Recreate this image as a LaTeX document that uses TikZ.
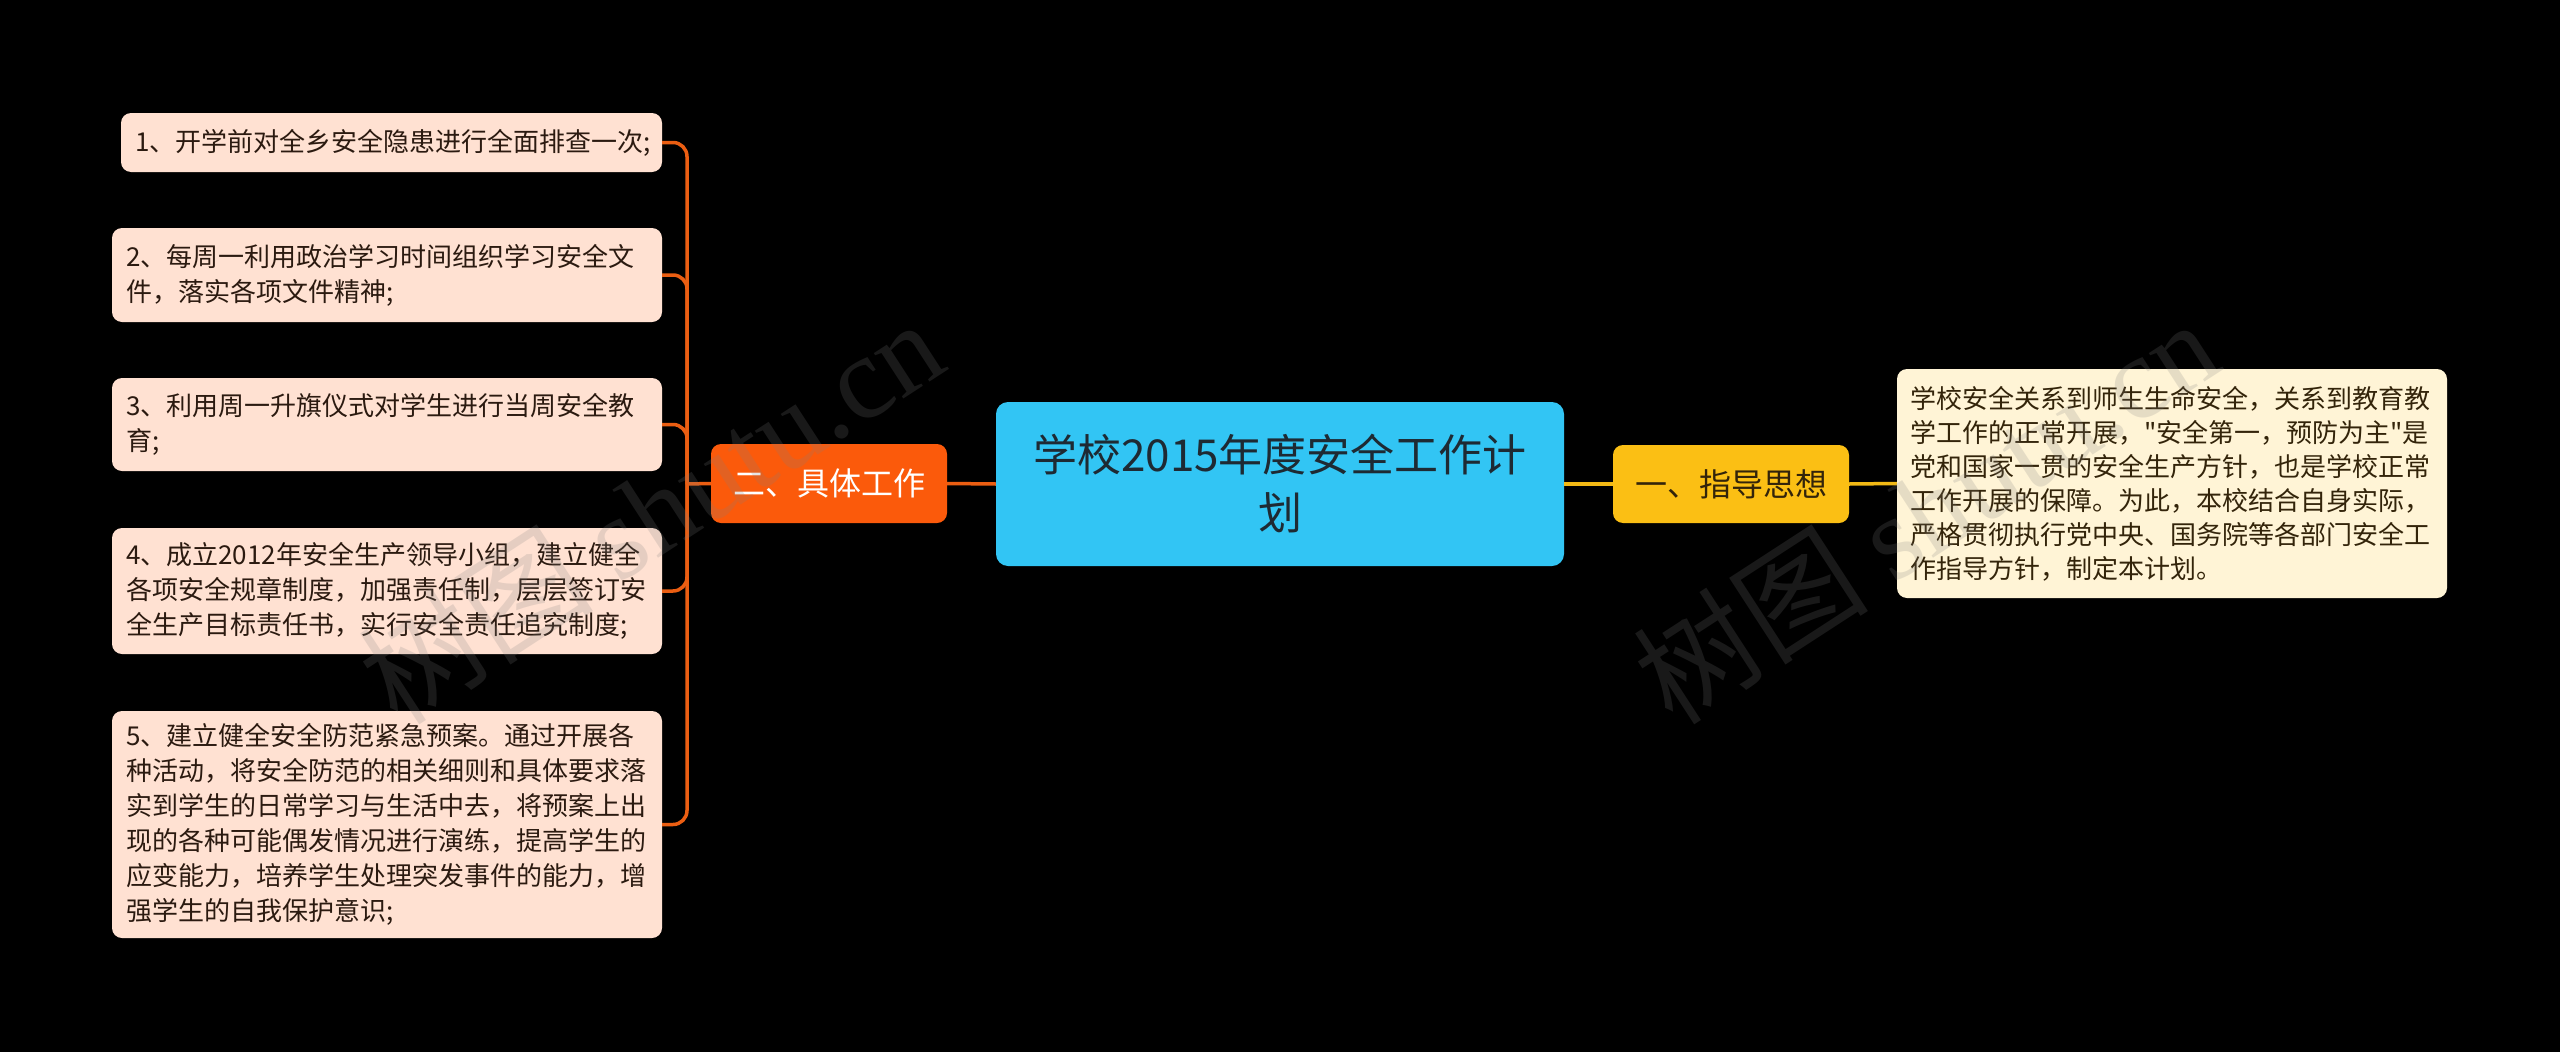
\documentclass[tikz,border=0pt]{standalone}
\usepackage{fontspec}
\setmainfont{Noto Sans CJK SC}
\newfontfamily\plainfont{Noto Sans CJK SC}
\newfontfamily\wmfont{Liberation Serif}
\definecolor{leafc}{HTML}{FFE1D2}
\definecolor{notec}{HTML}{FFF4D6}
\definecolor{bluec}{HTML}{32C5F4}
\definecolor{orangec}{HTML}{FB5A0B}
\definecolor{yellowc}{HTML}{FBBF14}
\definecolor{oline}{HTML}{EB5E12}
\definecolor{yline}{HTML}{F2B915}
\definecolor{leaftxt}{HTML}{2B1A10}
\definecolor{notetxt}{HTML}{33240A}
\definecolor{maintxt}{HTML}{1E2A33}
\tikzset{
  leaf/.style={fill=leafc, rounded corners=10pt, text=leaftxt, align=left,
    inner xsep=14pt, inner ysep=0pt, text width=522pt,
    font=\fontsize{26pt}{35pt}\selectfont},
  note/.style={fill=notec, rounded corners=10pt, text=notetxt, align=left,
    inner xsep=13pt, inner ysep=0pt, text width=524pt, minimum height=229pt,
    font=\plainfont\fontsize{26pt}{34pt}\selectfont},
  mainbox/.style={fill=bluec, rounded corners=12pt, text=maintxt, align=center,
    inner sep=0pt, text width=568pt, minimum height=164pt,
    font=\fontsize{44pt}{58pt}\selectfont},
  branchbox/.style={rounded corners=10pt, align=center, inner sep=0pt,
    minimum width=236pt, minimum height=79pt,
    font=\fontsize{32pt}{38pt}\selectfont},
  oconn/.style={draw=oline, line width=3.5pt},
  yconn/.style={draw=yline, line width=3.5pt},
  wm/.style={text=gray, text opacity=0.2, font=\fontsize{118pt}{120pt}\selectfont}
}
\begin{document}
\begin{tikzpicture}[x=1pt,y=-1pt]
\fill[black] (0,0) rectangle (2560,1052);
\useasboundingbox (0,0) rectangle (2560,1052);

% central topic
\node[mainbox] (C) at (1280,484) {学校2015年度安全工作计\\划};

% branches
\node[branchbox, fill=orangec, text=white] (L) at (829,483.5) {二、具体工作};
\node[branchbox, fill=yellowc, text=notetxt, minimum height=78pt] (R) at (1731,484) {一、指导思想};

% right note
\node[note] (T) at (2172,483.5) {学校安全关系到师生生命安全，关系到教育教\\学工作的正常开展，"安全第一，预防为主"是\\党和国家一贯的安全生产方针，也是学校正常\\工作开展的保障。为此，本校结合自身实际，\\严格贯彻执行党中央、国务院等各部门安全工\\作指导方针，制定本计划。};

% left leaves
\node[leaf, text width=513pt, minimum height=59pt] (b1) at (391.5,142.5) {1、开学前对全乡安全隐患进行全面排查一次;};
\node[leaf, minimum height=94pt] (b2) at (387,275) {2、每周一利用政治学习时间组织学习安全文\\件，落实各项文件精神;};
\node[leaf, minimum height=93pt] (b3) at (387,424.5) {3、利用周一升旗仪式对学生进行当周安全教\\育;};
\node[leaf, minimum height=126pt] (b4) at (387,591) {4、成立2012年安全生产领导小组，建立健全\\各项安全规章制度，加强责任制，层层签订安\\全生产目标责任书，实行安全责任追究制度;};
\node[leaf, minimum height=227pt] (b5) at (387,824.5) {5、建立健全安全防范紧急预案。通过开展各\\种活动，将安全防范的相关细则和具体要求落\\实到学生的日常学习与生活中去，将预案上出\\现的各种可能偶发情况进行演练，提高学生的\\应变能力，培养学生处理突发事件的能力，增\\强学生的自我保护意识;};

% connectors
\coordinate (jL) at (687,484);
\foreach \b in {b1,b2,b3,b4,b5}
  \draw[oconn, rounded corners=14pt] (\b.east) -| (jL);
\draw[oconn] (jL) -- (L.west);
\draw[oconn] (L.east) -- (C.west);
\draw[yconn] (C.east) -- (R.west);
\draw[yconn] (R.east) -- (T.west);

% watermarks
\node[wm, rotate=33] (wm1) at (650,510) {树图 {\wmfont shutu.cn}};
\node[wm, rotate=33] (wm2) at (1925,510) {树图 {\wmfont shutu.cn}};
\end{tikzpicture}
\end{document}
